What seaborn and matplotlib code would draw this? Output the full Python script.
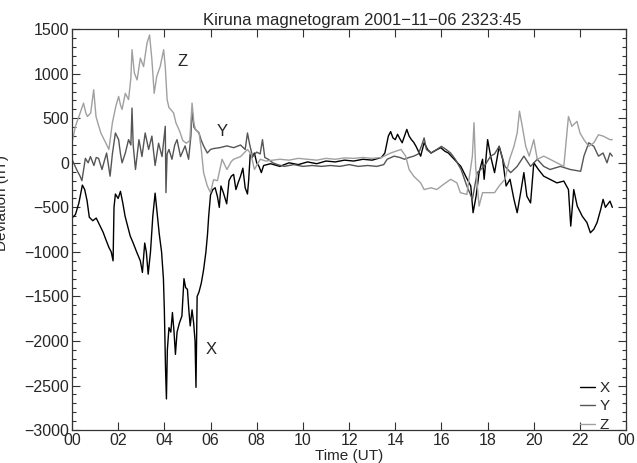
import pandas as pd
import matplotlib
matplotlib.use("Agg")
import matplotlib.pyplot as plt
import seaborn as sns
from matplotlib.ticker import MultipleLocator, FixedLocator

# ------------------------------
# Data (hours UT, nT)
# ------------------------------
x_time = [0.0, 0.15, 0.3, 0.45, 0.55, 0.65, 0.75, 0.9, 1.05, 1.2, 1.35, 1.45, 1.6, 1.7,
          1.78, 1.82, 1.88, 2.0, 2.1, 2.2, 2.3, 2.4, 2.52, 2.65, 2.8, 2.96, 3.05, 3.15,
          3.22, 3.3, 3.4, 3.5, 3.6, 3.7, 3.78, 3.88, 3.96, 4.0, 4.05, 4.09, 4.13, 4.2,
          4.28, 4.35, 4.42, 4.48, 4.55, 4.65, 4.76, 4.85, 4.92, 5.0, 5.06, 5.12, 5.2,
          5.27, 5.33, 5.37, 5.42, 5.5, 5.6, 5.7, 5.8, 5.87, 5.92, 6.0, 6.1, 6.2, 6.3,
          6.38, 6.45, 6.55, 6.7, 6.8, 6.9, 7.0, 7.1, 7.2, 7.3, 7.4, 7.5, 7.6, 7.65,
          7.72, 7.8, 7.9, 8.0, 8.1, 8.2, 8.3, 8.6, 9.0, 9.4, 9.8, 10.2, 10.6, 11.0,
          11.4, 11.8, 12.2, 12.6, 13.0, 13.4, 13.55, 13.7, 13.8, 13.9, 14.0, 14.1, 14.2,
          14.3, 14.4, 14.5, 14.6, 14.7, 14.8, 14.9, 15.0, 15.1, 15.25, 15.4, 15.55,
          15.75, 15.97, 16.15, 16.3, 16.55, 16.84, 17.05, 17.27, 17.37, 17.5, 17.63,
          17.78, 17.85, 18.0, 18.13, 18.3, 18.5, 18.65, 18.8, 18.97, 19.14, 19.28,
          19.43, 19.57, 19.7, 19.86, 20.0, 20.2, 20.43, 20.7, 21.0, 21.3, 21.5, 21.6,
          21.73, 21.88, 22.1, 22.3, 22.45, 22.6, 22.74, 22.9, 23.0, 23.1, 23.3, 23.4]
x_vals = [-620, -580, -450, -250, -300, -420, -610, -650, -620, -700, -780, -850, -950, -1000,
          -1100, -500, -350, -400, -320, -450, -600, -700, -820, -900, -1000, -1100, -1230, -900,
          -1000, -1250, -1000, -600, -340, -600, -800, -1000, -1300, -1650, -2300, -2650, -2100, -1850,
          -1900, -1680, -1900, -2150, -1900, -1800, -1720, -1300, -1400, -1420, -1650, -1830, -1650,
          -1800, -2000, -2520, -1500, -1450, -1350, -1200, -1000, -800, -600, -360, -300, -280, -380,
          -500, -260, -330, -460, -200, -150, -130, -300, -220, -150, -60, -280, -350, -200,
          100, 60, 110, 0, -40, -110, -30, -10, -40, 0, -20, 10, -10, 20,
          10, 30, 20, 40, 30, 60, 110, 300, 350, 280, 260, 320, 270,
          225, 300, 375, 300, 260, 230, 185, 130, 75, 225, 150, 110,
          140, 170, 130, 110, 40, -40, -150, -260, -560, -375, -110,
          40, -185, 260, 75, -110, 185, 40, -260, -185, -410, -560,
          -335, -110, -375, -450, 0, -75, -150, -185, -225, -205, -300, -710,
          -300, -485, -600, -670, -785, -745, -670, -520, -410, -500, -430, -500]

y_time = [0.0, 0.2, 0.35, 0.43, 0.58, 0.7, 0.8, 0.95, 1.05, 1.15, 1.3, 1.4, 1.5, 1.65,
          1.75, 1.88, 2.02, 2.1, 2.17, 2.31, 2.45, 2.55, 2.6, 2.65, 2.75, 2.9, 3.03, 3.17,
          3.32, 3.46, 3.6, 3.75, 3.9, 4.04, 4.07, 4.12, 4.2, 4.33, 4.45, 4.55, 4.7, 4.9,
          5.05, 5.15, 5.2, 5.28, 5.35, 5.5, 5.6, 5.7, 5.86, 6.0, 6.13, 6.4, 6.71, 7.0,
          7.3, 7.5, 7.6, 7.7, 7.82, 8.0, 8.15, 8.25, 8.35, 8.5, 8.7, 8.9, 9.2, 9.6,
          10.0, 10.4, 10.8, 11.2, 11.6, 12.0, 12.4, 12.8, 13.2, 13.5, 13.65, 13.95, 14.2,
          14.4, 14.6, 14.8, 15.0, 15.15, 15.25, 15.35, 15.55, 15.8, 16.0, 16.2, 16.4,
          16.6, 16.85, 17.1, 17.34, 17.45, 17.55, 17.85, 18.13, 18.3, 18.5, 18.75, 19.0,
          19.28, 19.57, 19.86, 20.15, 20.43, 20.7, 21.15, 21.58, 22.03, 22.17, 22.38,
          22.6, 22.8, 23.0, 23.17, 23.3, 23.4]
y_vals = [40, -75, -150, -200, 50, 0, 70, -30, 60, 50, -75, 20, 110, -150,
          100, 335, 260, 100, 0, 110, 260, 200, 615, 200, -75, 260, 70, 335,
          150, 300, -30, 220, 70, 410, -335, 100, 150, 40, 200, 260, 70, 190,
          40, 300, 600, 400, 375, 335, 250, 190, 110, 150, 160, 170, 190, 170,
          200, 150, 335, 200, 70, 120, 100, 260, 60, 40, 0, -20, -40, -20,
          -40, -30, -40, -30, -40, -20, -40, -30, -40, -20, 40, 75, 60,
          40, 60, 75, 100, 200, 280, 150, 110, 150, 185, 150, 110,
          40, -75, -260, -410, -250, -110, -40, 75, 100, 185, -40, -110,
          -40, 75, -40, 40, -40, -75, -40, -75, -95, 75, 225,
          185, 75, 110, 0, 110, 75]

z_time = [0.0, 0.15, 0.3, 0.5, 0.6, 0.67, 0.81, 0.94, 1.04, 1.15, 1.25, 1.46, 1.6, 1.75,
          1.9, 2.02, 2.1, 2.17, 2.31, 2.45, 2.55, 2.6, 2.7, 2.82, 2.96, 3.1, 3.25, 3.36,
          3.46, 3.56, 3.67, 3.82, 3.97, 4.04, 4.12, 4.2, 4.27, 4.4, 4.5, 4.67, 4.8, 4.95,
          5.1, 5.2, 5.28, 5.35, 5.5, 5.6, 5.7, 5.86, 6.0, 6.13, 6.3, 6.5, 6.71, 6.9,
          7.0, 7.3, 7.6, 7.75, 7.9, 8.15, 8.4, 8.7, 9.0, 9.4, 9.8, 10.2, 10.6, 11.0,
          11.4, 11.8, 12.2, 12.6, 13.0, 13.4, 13.8, 14.25, 14.45, 14.6, 14.8, 15.1, 15.25,
          15.55, 15.8, 16.1, 16.4, 16.67, 16.82, 17.1, 17.34, 17.41, 17.48, 17.63, 17.78,
          18.0, 18.3, 18.5, 18.75, 18.95, 19.14, 19.28, 19.38, 19.5, 19.65, 19.8, 20.0,
          20.15, 20.43, 20.7, 21.0, 21.3, 21.5, 21.65, 21.87, 22.0, 22.17, 22.38, 22.6,
          22.8, 23.0, 23.3, 23.4]
z_vals = [225, 410, 520, 670, 560, 520, 560, 820, 520, 420, 335, 225, 150, 450,
          635, 745, 650, 600, 780, 710, 950, 1270, 1010, 930, 1175, 1080, 1345, 1435,
          1160, 780, 970, 1080, 1270, 1080, 710, 620, 600, 560, 450, 350, 250, 220,
          250, 670, 450, 370, 340, 150, -110, -260, -335, -190, -200, 40, -75, 15,
          40, 70, 150, 100, -75, 40, 20, 30, 40, 30, 50, 40, 30, 50,
          40, 55, 50, 60, 50, 60, 110, 150, 75, -75, -150, -225, -300,
          -280, -300, -240, -185, -225, -335, -355, 75, 450, -40, -485, -335,
          -335, -335, -260, -185, 40, 185, 335, 580, 410, 185, 75, 260,
          40, 75, 40, 0, -40, 520, 410, 465, 335, 260, 185, 225,
          315, 300, 260, 260]

components = ["X", "Y", "Z"]
colours = ["#000000", "#555555", "#a0a0a0"]
hour_ticks = list(range(0, 25, 2))
hour_labels = [f"{h % 24:02d}" for h in hour_ticks]
title = "Kiruna magnetogram 2001\u221211\u221206 2323:45"

df = pd.concat([
    pd.DataFrame({"Time": x_time, "Deviation": x_vals, "Component": "X"}),
    pd.DataFrame({"Time": y_time, "Deviation": y_vals, "Component": "Y"}),
    pd.DataFrame({"Time": z_time, "Deviation": z_vals, "Component": "Z"}),
])

# ------------------------------
# Plot
# ------------------------------
sns.set_style("ticks")
plt.rcParams["font.family"] = ["Liberation Sans", "DejaVu Sans"]
plt.rcParams["axes.unicode_minus"] = True

fig = plt.figure(figsize=(6.37, 4.63), dpi=100)
ax = fig.add_axes([0.113, 0.071, 0.870, 0.866])

sns.lineplot(data=df, x="Time", y="Deviation", hue="Component", hue_order=components,
             palette=colours, estimator=None, sort=False, linewidth=1.0, ax=ax)

ax.set_xlim(0, 24)
ax.set_ylim(-3000, 1500)
ax.xaxis.set_major_locator(FixedLocator(hour_ticks))
ax.set_xticklabels(hour_labels)
ax.yaxis.set_major_locator(MultipleLocator(500))
ax.yaxis.set_minor_locator(MultipleLocator(100))
ax.tick_params(axis="both", which="both", direction="in", top=True, right=True,
               labelsize=11.5, width=0.8, color="#333333", pad=2)
ax.tick_params(axis="both", which="major", length=6)
ax.tick_params(axis="y", which="minor", length=3)
ax.tick_params(axis="x", which="minor", length=0)
for s in ax.spines.values():
    s.set_linewidth(0.9)
    s.set_color("#333333")

ax.set_xlabel("Time (UT)", fontsize=11, labelpad=1)
ax.set_ylabel("")
fig.text(0.003, 0.562, "Deviation (nT)", rotation=90, ha="center", va="center", fontsize=11)
ax.set_title(title, fontsize=12, pad=3, x=0.523)

# component labels next to the curves
ax.text(4.78, 1134, "Z", fontsize=12, ha="center", va="center")
ax.text(6.51, 350, "Y", fontsize=12, ha="center", va="center")
ax.text(6.03, -2090, "X", fontsize=12, ha="center", va="center")

leg = ax.legend(loc="lower right", frameon=False, fontsize=11, handlelength=1.0,
                handletextpad=0.3, labelspacing=0.3, borderaxespad=0.0,
                bbox_to_anchor=(0.982, -0.02))
for t in leg.get_texts():
    t.set_clip_on(True)
    t.set_clip_box(ax.bbox)

fig.savefig("out.png", dpi=100)
